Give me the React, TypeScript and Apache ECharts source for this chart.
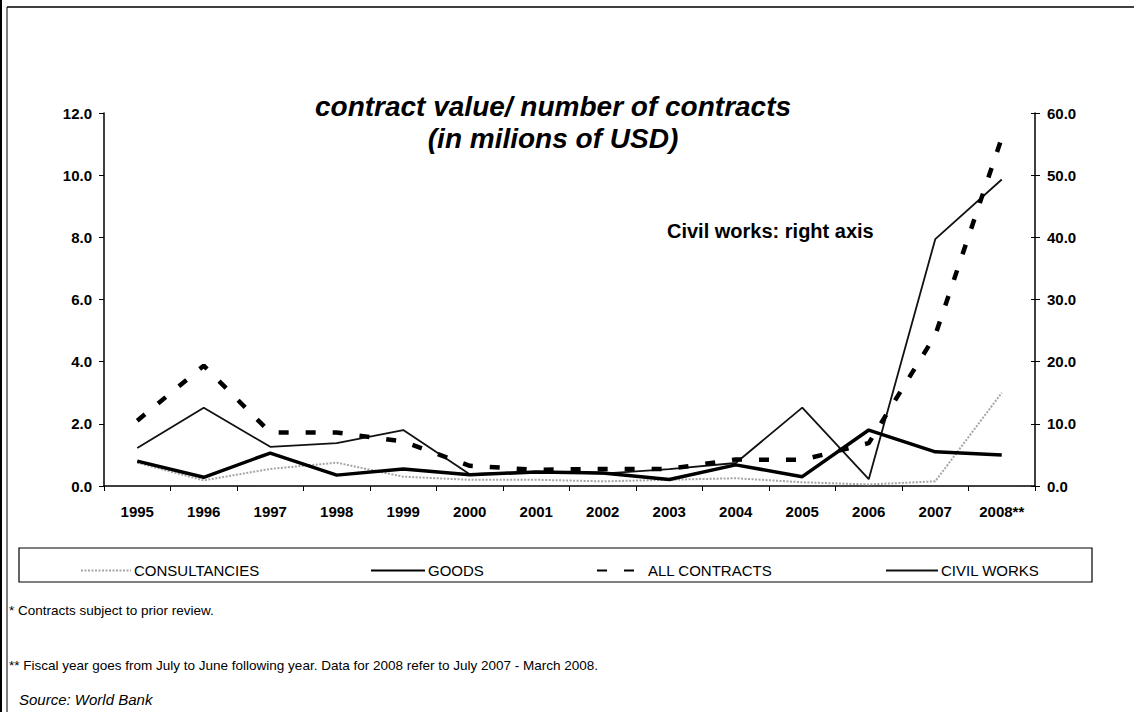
import React, { useEffect, useRef } from "react";
import * as echarts from "echarts";

const categories = ["1995", "1996", "1997", "1998", "1999", "2000", "2001", "2002", "2003", "2004", "2005", "2006", "2007", "2008**"];
const consultancies = [0.75, 0.18, 0.55, 0.75, 0.3, 0.2, 0.2, 0.15, 0.2, 0.25, 0.12, 0.05, 0.15, 3.0];
const goods = [0.8, 0.28, 1.06, 0.35, 0.55, 0.36, 0.45, 0.42, 0.21, 0.68, 0.3, 1.8, 1.1, 1.0];
const allContracts = [2.1, 3.87, 1.72, 1.72, 1.43, 0.65, 0.52, 0.55, 0.55, 0.85, 0.84, 1.38, 4.85, 11.2];
const civilWorks = [6.1, 12.6, 6.3, 6.9, 9.0, 1.9, 2.3, 2.0, 2.7, 3.7, 12.6, 1.1, 39.7, 49.3];

const leftTicks = { min: 0, max: 12, interval: 2 };
const rightTicks = { min: 0, max: 60, interval: 10 };

const FONT = "Arial, 'Liberation Sans', Helvetica, sans-serif";

export default function App() {
  const ref = useRef<HTMLDivElement>(null);
  useEffect(() => {
    if (!ref.current) return;
    const chart = echarts.init(ref.current, null, { renderer: "svg" });
    const mkLegend = (name: string, left: number, width: number) => ({
      data: [name],
      left,
      top: 558,
      itemWidth: width,
      itemHeight: 14,
      itemGap: 0,
      itemStyle: { opacity: 0, borderWidth: 0 },
      textStyle: { color: "#000", fontSize: 15, fontFamily: FONT, padding: [0, 0, 0, -2] },
      selectedMode: false,
    });
    const axisLabel = { color: "#000", fontSize: 15, fontWeight: "bold", fontFamily: FONT };
    chart.setOption({
      animation: false,
      backgroundColor: "#fff",
      textStyle: { fontFamily: FONT },
      grid: { left: 104, right: 99, top: 113, bottom: 226, containLabel: false },
      legend: [
        mkLegend("CONSULTANCIES", 75, 50),
        mkLegend("GOODS", 365, 54),
        mkLegend("ALL CONTRACTS", 591, 48),
        mkLegend("CIVIL WORKS", 880, 52),
      ],
      xAxis: {
        type: "category",
        data: categories,
        boundaryGap: true,
        axisLine: { lineStyle: { color: "#000", width: 1.5 } },
        axisTick: { show: true, length: 5, lineStyle: { color: "#000" } },
        axisLabel: { ...axisLabel, margin: 18 },
        splitLine: { show: false },
      },
      yAxis: [
        {
          type: "value",
          position: "left",
          ...leftTicks,
          axisLine: { show: true, lineStyle: { color: "#000", width: 1.5 } },
          axisTick: { show: true, length: 5, lineStyle: { color: "#000" } },
          axisLabel: { ...axisLabel, margin: 12, formatter: (v: number) => v.toFixed(1) },
          splitLine: { show: false },
        },
        {
          type: "value",
          position: "right",
          ...rightTicks,
          axisLine: { show: true, lineStyle: { color: "#000", width: 1.5 } },
          axisTick: { show: true, length: 5, lineStyle: { color: "#000" } },
          axisLabel: { ...axisLabel, margin: 12, formatter: (v: number) => v.toFixed(1) },
          splitLine: { show: false },
        },
        {
          type: "value",
          position: "right",
          ...rightTicks,
          axisLine: { show: false },
          axisTick: { show: true, inside: true, length: 4, lineStyle: { color: "#000" } },
          axisLabel: { show: false },
          splitLine: { show: false },
        },
      ],
      series: [
        {
          name: "CONSULTANCIES",
          type: "line",
          data: consultancies,
          symbol: "none",
          yAxisIndex: 0,
          lineStyle: { color: "#a5a5a5", width: 2, type: [2, 1.5] },
          itemStyle: { color: "#a5a5a5" },
          z: 1,
        },
        {
          name: "GOODS",
          type: "line",
          data: goods,
          symbol: "none",
          yAxisIndex: 0,
          lineStyle: { color: "#000", width: 3.5 },
          itemStyle: { color: "#000" },
          z: 3,
        },
        {
          name: "ALL CONTRACTS",
          type: "line",
          data: allContracts,
          symbol: "none",
          yAxisIndex: 0,
          lineStyle: { color: "#000", width: 4.5, type: [10, 17] },
          itemStyle: { color: "#000" },
          z: 4,
        },
        {
          name: "CIVIL WORKS",
          type: "line",
          data: civilWorks,
          symbol: "none",
          yAxisIndex: 1,
          lineStyle: { color: "#111", width: 1.8 },
          itemStyle: { color: "#111" },
          z: 2,
        },
      ],
      graphic: [
        { type: "line", shape: { x1: 1, y1: 0, x2: 1, y2: 712 }, style: { stroke: "#000", lineWidth: 2 } },
        { type: "line", shape: { x1: 7, y1: 7, x2: 7, y2: 712 }, style: { stroke: "#000", lineWidth: 1 } },
        { type: "line", shape: { x1: 7, y1: 7, x2: 1134, y2: 7 }, style: { stroke: "#000", lineWidth: 1.5 } },
        { type: "rect", shape: { x: 19, y: 548, width: 1073, height: 34 }, style: { fill: "none", stroke: "#000", lineWidth: 1.2 } },
        {
          type: "text", x: 553, y: 106,
          style: { text: "contract value/ number of contracts", font: `italic bold 28px ${FONT}`, fill: "#000", textAlign: "center", textVerticalAlign: "middle" },
        },
        {
          type: "text", x: 553, y: 138,
          style: { text: "(in milions of USD)", font: `italic bold 28px ${FONT}`, fill: "#000", textAlign: "center", textVerticalAlign: "middle" },
        },
        {
          type: "text", x: 667, y: 231,
          style: { text: "Civil works: right axis", font: `bold 20px ${FONT}`, fill: "#000", textAlign: "left", textVerticalAlign: "middle" },
        },
        {
          type: "text", x: 9, y: 610,
          style: { text: "* Contracts subject to prior review.", font: `13.5px ${FONT}`, fill: "#000", textAlign: "left", textVerticalAlign: "middle" },
        },
        {
          type: "text", x: 9, y: 665,
          style: { text: "** Fiscal year goes from July to June following year. Data for 2008 refer to July 2007 - March 2008.", font: `13.5px ${FONT}`, fill: "#000", textAlign: "left", textVerticalAlign: "middle" },
        },
        {
          type: "text", x: 19, y: 699,
          style: { text: "Source: World Bank", font: `italic 15px ${FONT}`, fill: "#000", textAlign: "left", textVerticalAlign: "middle" },
        },
      ],
    });
    return () => chart.dispose();
  }, []);
  return <div ref={ref} style={{ position: "fixed", left: 0, top: 0, width: 1134, height: 712, background: "#fff" }} />;
}
